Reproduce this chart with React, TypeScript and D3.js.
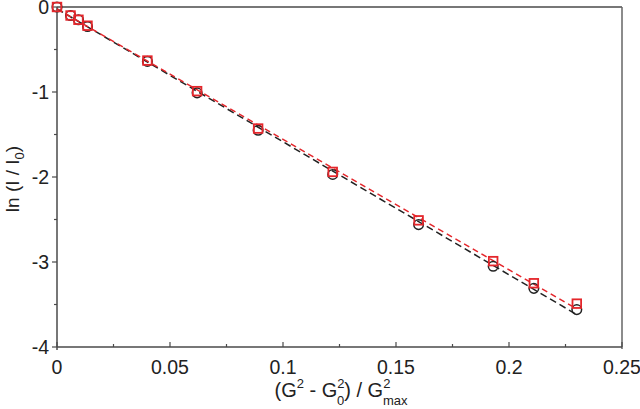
import React from "react";
import * as d3 from "d3";

const xValues = [0, 0.006, 0.0095, 0.0135, 0.04, 0.062, 0.089, 0.122, 0.16, 0.193, 0.211, 0.23];
const circleValues = [0, -0.1, -0.15, -0.23, -0.64, -1.01, -1.45, -1.97, -2.56, -3.05, -3.31, -3.56];
const squareValues = [0, -0.1, -0.15, -0.22, -0.63, -0.99, -1.43, -1.94, -2.51, -2.99, -3.25, -3.49];
const xTicks = [0, 0.05, 0.1, 0.15, 0.2, 0.25];
const xTickLabels = ["0", "0.05", "0.1", "0.15", "0.2", "0.25"];
const yTicks = [0, -1, -2, -3, -4];
const yTickLabels = ["0", "-1", "-2", "-3", "-4"];

const W = 640;
const H = 409;
const left = 57;
const right = 622;
const top = 7;
const bottom = 347;

function fitThroughData(xs: number[], ys: number[]) {
  const mx = d3.mean(xs) as number;
  const my = d3.mean(ys) as number;
  let num = 0;
  let den = 0;
  xs.forEach((x, i) => {
    num += (x - mx) * (ys[i] - my);
    den += (x - mx) * (x - mx);
  });
  const slope = num / den;
  return { slope, intercept: my - slope * mx };
}

export default function App() {
  const x = d3.scaleLinear().domain([0, 0.25]).range([left, right]);
  const y = d3.scaleLinear().domain([-4, 0]).range([bottom, top]);
  const font = "'Liberation Sans', Arial, sans-serif";
  const axisColor = "#4a4a4a";
  const red = "#e4262b";
  const fs = 19.5;

  const xMinor = d3.range(0.025, 0.25, 0.05);
  const yMinor = d3.range(-3.5, 0, 1);

  const fitC = fitThroughData(xValues, circleValues);
  const fitS = fitThroughData(xValues, squareValues);
  const xEnd = d3.max(xValues) as number;

  const lineC = d3
    .line<number>()
    .x((d) => x(d))
    .y((d) => y(Math.min(0, fitC.intercept + fitC.slope * d)))([0, xEnd]);
  const lineS = d3
    .line<number>()
    .x((d) => x(d))
    .y((d) => y(Math.min(0, fitS.intercept + fitS.slope * d)))([0, xEnd]);

  return (
    <svg width={W} height={H} style={{ position: "absolute", left: 0, top: 0, background: "#fff" }}>
      {/* frame */}
      <line x1={left} y1={top} x2={right} y2={top} stroke={axisColor} strokeWidth={1.5} />
      <line x1={right} y1={top} x2={right} y2={bottom + 2} stroke="#666" strokeWidth={1.5} />
      <line x1={left} y1={bottom} x2={right} y2={bottom} stroke={axisColor} strokeWidth={1.5} />
      <line x1={left} y1={top} x2={left} y2={bottom + 3} stroke={axisColor} strokeWidth={1.5} />

      {/* x ticks */}
      {xTicks.map((t, i) => (
        <g key={"xt" + i}>
          <line x1={x(t)} x2={x(t)} y1={bottom} y2={bottom - 5} stroke={axisColor} strokeWidth={1.2} />
          <text x={x(t)} y={bottom + 26.5} fontSize={fs} fontFamily={font} fill="#222" textAnchor="middle">
            {xTickLabels[i]}
          </text>
        </g>
      ))}
      {xMinor.map((t, i) => (
        <line key={"xm" + i} x1={x(t)} x2={x(t)} y1={bottom} y2={bottom - 3} stroke={axisColor} strokeWidth={1.2} />
      ))}

      {/* y ticks */}
      {yTicks.map((t, i) => (
        <g key={"yt" + i}>
          <line x1={left} x2={left - 5} y1={y(t)} y2={y(t)} stroke={axisColor} strokeWidth={1.2} />
          <text x={left - 8} y={y(t) + 7} fontSize={fs} fontFamily={font} fill="#222" textAnchor="end">
            {yTickLabels[i]}
          </text>
        </g>
      ))}
      {yMinor.map((t, i) => (
        <line key={"ym" + i} x1={left} x2={left - 3} y1={y(t)} y2={y(t)} stroke={axisColor} strokeWidth={1.2} />
      ))}

      {/* fit lines */}
      <path d={lineC || ""} fill="none" stroke="#222" strokeWidth={1.5} strokeDasharray="7,4" />
      <path d={lineS || ""} fill="none" stroke={red} strokeWidth={1.5} strokeDasharray="6,4" />

      {/* circles */}
      {xValues.map((v, i) => (
        <circle key={"c" + i} cx={x(v)} cy={y(circleValues[i])} r={4.8} fill="none" stroke="#222" strokeWidth={1.5} />
      ))}
      {/* squares */}
      {xValues.map((v, i) => (
        <rect
          key={"s" + i}
          x={x(v) - 4.3}
          y={y(squareValues[i]) - 4.3}
          width={8.6}
          height={8.6}
          fill="none"
          stroke={red}
          strokeWidth={1.8}
        />
      ))}

      {/* y label */}
      <text
        transform={`translate(19,${(top + bottom) / 2 + 2}) rotate(-90)`}
        fontSize={19}
        fontFamily={font}
        fill="#222"
        textAnchor="middle"
      >
        ln (I / I<tspan fontSize={13} dy={5}>0</tspan>
        <tspan dy={-5}>)</tspan>
      </text>

      {/* x label */}
      <text x={341} y={397} fontSize={20} fontFamily={font} fill="#222" textAnchor="middle">
        (G<tspan fontSize={13} dy={-9}>2</tspan>
        <tspan dy={9}> - G</tspan>
        <tspan fontSize={13} dy={-9}>2</tspan>
        <tspan fontSize={13} dx={-7.5} dy={17}>0</tspan>
        <tspan dy={-8}>) / G</tspan>
        <tspan fontSize={13} dy={-9}>2</tspan>
        <tspan fontSize={13} dx={-7.5} dy={17}>max</tspan>
      </text>
    </svg>
  );
}
